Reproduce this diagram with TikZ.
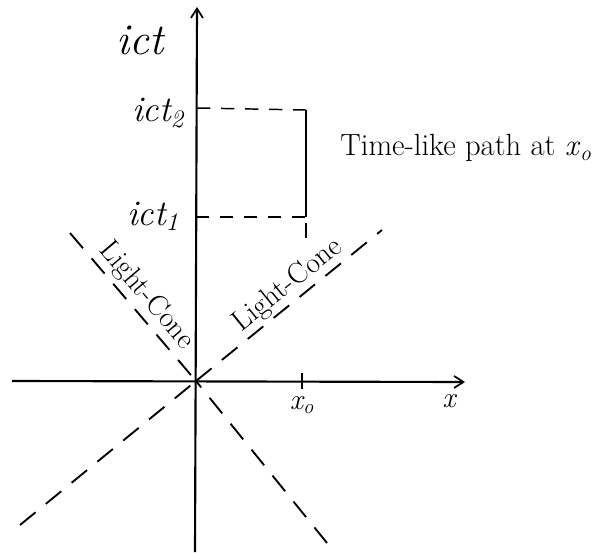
\documentclass[tikz,border=0pt]{standalone}
\usetikzlibrary{arrows.meta,calc}
\newcommand{\lsub}[1]{\textsubscript{\itshape #1}}
\begin{document}
\begin{tikzpicture}[x=0.75pt,y=-0.75pt,
  axis/.style={line width=1.6pt,-{Straight Barb[length=7pt,width=9pt,line width=1.3pt]}},
  cone/.style={line width=1.4pt,dash pattern=on 15pt off 10pt},
  guide/.style={line width=1.1pt,dash pattern=on 10pt off 8pt},
  path/.style={line width=1.6pt},
  tickline/.style={line width=1.1pt},
  lbl/.style={inner sep=0pt},
  big/.style={lbl,font=\fontsize{33}{36}\selectfont\itshape},
  mid/.style={lbl,font=\fontsize{27}{30}\selectfont\itshape},
  txt/.style={lbl,font=\fontsize{23}{26}\selectfont},
  small/.style={lbl,font=\fontsize{22}{24}\selectfont\itshape},
  conelbl/.style={inner sep=2pt,anchor=south,font=\fontsize{22}{24}\selectfont}]
\useasboundingbox (0,0) rectangle (605,552);
% axes
\coordinate (O) at (196,381);
\coordinate (xl) at (12,381);
\coordinate (xr) at (465,382);
\coordinate (yb) at (195,552);
\coordinate (yt) at (197,7);
\draw[axis] (xl) -- (xr);
\draw[axis] (yb) -- (yt);
% light cone
\coordinate (UL) at (70,233);
\coordinate (LR) at (327,543);
\coordinate (UR) at (382,230);
\coordinate (LL) at (20,525);
\draw[cone] (UL) -- (O);
\draw[cone] (LR) -- (O);
\draw[cone] (O) -- (UR);
\draw[cone] (LL) -- (O);
\node[conelbl,rotate=-49.6] (lcL) at (134,306) {Light-Cone};
\node[conelbl,rotate=39] (lcR) at (298,298) {Light-Cone};
% time-like path
\coordinate (t2a) at (197,108);
\coordinate (P2) at (306,110);
\coordinate (t1a) at (196,217);
\coordinate (P1) at (306,217);
\coordinate (P1s) at (306,223);
\coordinate (P1d) at (306,238);
\draw[guide] (t2a) -- (P2);
\draw[guide] (t1a) -- (P1);
\draw[path] (P1) -- (P2);
\draw[tickline] (P1s) -- (P1d);
% tick at x0
\coordinate (tk1) at (302,373);
\coordinate (tk2) at (302,389);
\draw[tickline] (tk1) -- (tk2);
% labels
\node[big] (ict) at (140,40) {ict};
\node[mid] (ict2) at (158,113) {ict\lsub{2}};
\node[mid] (ict1) at (153,216) {ict\lsub{1}};
\node[txt] (tl) at (466,148) {Time-like path at \textit{x}\lsub{o}};
\node[small] (x0) at (302,405) {x\lsub{o}};
\node[small] (xlab) at (449,401) {x};
\end{tikzpicture}
\end{document}
